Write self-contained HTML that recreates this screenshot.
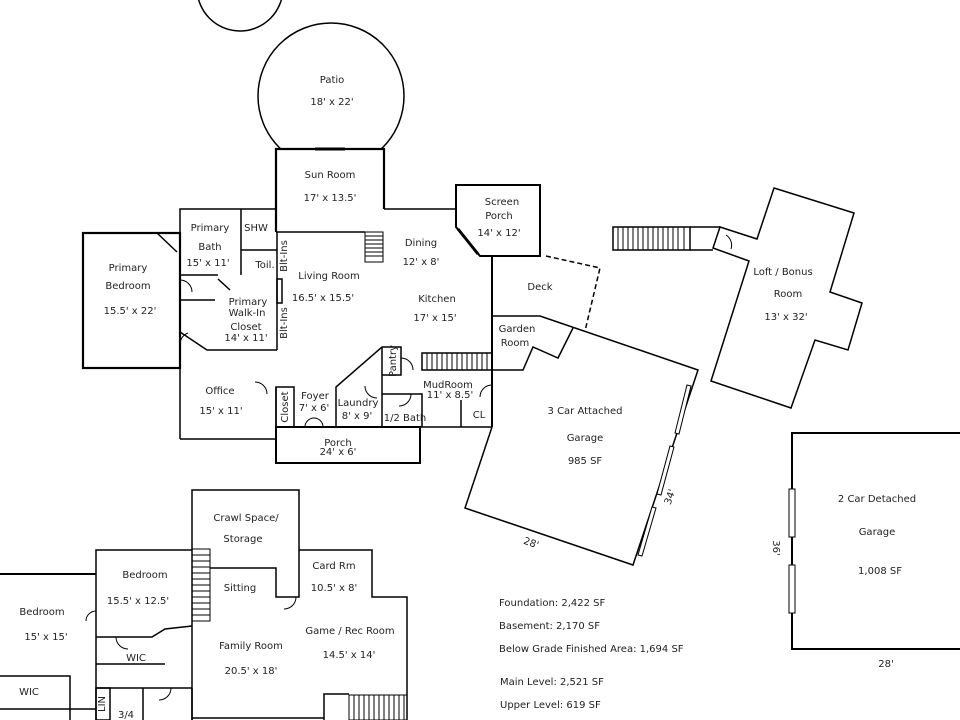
<!DOCTYPE html>
<html><head><meta charset="utf-8"><style>
html,body{margin:0;padding:0;background:#fff}
svg{display:block}
text{font-family:"DejaVu Sans","Liberation Sans",sans-serif;font-size:10px;fill:#222;text-anchor:middle}
.l{text-anchor:start}
</style></head><body>
<svg width="960" height="720" viewBox="0 0 960 720" xmlns="http://www.w3.org/2000/svg">
<g fill="none" stroke="#000" stroke-width="1.5">
<!-- circles -->
<circle cx="240" cy="-12" r="43"/>
<circle cx="331" cy="96" r="73" fill="#fff"/>
<!-- sun room -->
<polyline points="276,232 276,149 384,149 384,209" stroke-width="2.2" fill="#fff"/>
<line x1="315" y1="149" x2="345" y2="149" stroke-width="3"/>
<!-- main outline -->
<polyline points="276,209 180,209 180,233"/>
<rect x="83" y="233" width="97" height="135" stroke-width="2.2"/>
<line x1="384" y1="209" x2="456" y2="209"/>
<line x1="276" y1="232" x2="365" y2="232"/>
<line x1="241" y1="209" x2="241" y2="250"/>
<line x1="241" y1="250" x2="277" y2="250"/>
<line x1="241" y1="250" x2="241" y2="275"/>
<line x1="277" y1="232" x2="277" y2="350"/>
<rect x="277" y="279" width="5" height="24"/>
<line x1="180" y1="275" x2="218" y2="275"/>
<line x1="180" y1="300" x2="215" y2="300"/>
<polyline points="180,332 207,350 277,350"/>
<line x1="180" y1="368" x2="180" y2="439"/>
<line x1="180" y1="439" x2="276" y2="439"/>
<line x1="180" y1="233" x2="180" y2="368"/>
<line x1="157" y1="233" x2="177" y2="252"/>
<line x1="218" y1="279" x2="230" y2="290"/>
<!-- foyer/closet -->
<line x1="276" y1="387" x2="276" y2="439"/>
<rect x="276" y="387" width="18" height="40"/>
<rect x="276" y="427" width="144" height="36" stroke-width="2"/>
<polyline points="336,427 336,387 382,347 401,347 401,375 382,375"/>
<line x1="382" y1="347" x2="382" y2="394"/>
<line x1="382" y1="394" x2="382" y2="427"/>
<polyline points="382,394 422,394 422,427"/>
<line x1="420" y1="427" x2="492" y2="427"/>
<line x1="461" y1="400" x2="461" y2="427"/>
<rect x="422" y="353" width="70" height="17"/>
<!-- screen porch -->
<polygon points="456,185 540,185 540,256 480,256 456,227" stroke-width="2"/>
<line x1="458" y1="229" x2="478" y2="254" stroke-width="3"/>
<line x1="492" y1="256" x2="492" y2="427" stroke-width="2"/>
<!-- deck -->
<polyline points="546,256 600,268 585,331" stroke-dasharray="5,3"/>
<!-- garden/garage -->
<polyline points="492,316 540,316 698,370 633,565 465,508 492,427"/>
<polyline points="573,328 558,358 533,347 523,370 492,370"/>
<g fill="#fff" stroke-width="1">
<polygon points="687,385 691,386 679,434 675,433"/>
<polygon points="670,446 674,447 661,495 657,494"/>
<polygon points="652,507 656,508 642,556 638,555"/>
</g>
<!-- loft -->
<polygon points="774,188 854,213 830,292 862,303 848,350 815,340 791,408 711,381 749,261 713,248 720,227 757,239"/>
<rect x="613" y="227" width="77" height="23"/>
<line x1="690" y1="227" x2="720" y2="227"/><line x1="690" y1="250" x2="713" y2="250"/>
<!-- detached -->
<polyline points="960,433 792,433 792,649 960,649" stroke-width="2"/>
<rect x="789" y="489" width="6" height="48" fill="#fff" stroke-width="1"/>
<rect x="789" y="565" width="6" height="48" fill="#fff" stroke-width="1"/>
<!-- basement -->
<polyline points="192,720 192,490 299,490 299,597 276,597 276,568 210,568"/>
<polyline points="299,550 372,550 372,597 407,597 407,720"/>
<polyline points="96,720 96,550 192,550"/>
<polyline points="0,574 96,574" stroke-width="2"/>
<polyline points="96,637 152,637 165,629 192,626"/>
<polyline points="96,664 165,664"/>
<polyline points="0,676 70,676 70,720"/>
<line x1="0" y1="709" x2="96" y2="709"/>
<line x1="96" y1="688" x2="192" y2="688"/>
<line x1="143" y1="688" x2="143" y2="720"/>
<line x1="192" y1="688" x2="192" y2="720"/>
<line x1="192" y1="718" x2="324" y2="718"/>
<polyline points="324,720 324,694 349,694"/>
<rect x="96" y="688" width="14" height="32"/>
</g>
<g stroke="#000" stroke-width="1">
<!-- stairs -->
<rect x="365" y="232" width="18" height="30" fill="none"/>
<path d="M365 236h18M365 240h18M365 244h18M365 248h18M365 252h18M365 256h18"/>
<path d="M427 353v17M432 353v17M437 353v17M442 353v17M447 353v17M452 353v17M457 353v17M462 353v17M467 353v17M472 353v17M477 353v17M482 353v17M487 353v17"/>
<path d="M618 227v23M623 227v23M628 227v23M633 227v23M638 227v23M643 227v23M648 227v23M653 227v23M658 227v23M663 227v23M668 227v23M673 227v23M678 227v23M684 227v23"/>
<rect x="192" y="549" width="18" height="72" fill="none"/>
<path d="M192 555h18M192 561h18M192 567h18M192 573h18M192 579h18M192 585h18M192 591h18M192 597h18M192 603h18M192 609h18M192 615h18"/>
<rect x="349" y="695" width="58" height="25" fill="none"/>
<path d="M354 695v25M359 695v25M364 695v25M369 695v25M374 695v25M379 695v25M384 695v25M389 695v25M394 695v25M399 695v25M404 695v25"/>
</g>
<g fill="none" stroke="#000" stroke-width="1">
<path d="M180 280 a12 12 0 0 1 12 12"/>
<path d="M180 345 a12 12 0 0 1 8 -12"/>
<path d="M255 382 a12 12 0 0 1 12 12"/>
<path d="M305 427 a9 9 0 0 1 18 0"/>
<path d="M365 386 a12 12 0 0 0 12 12"/>
<path d="M401 358 a12 12 0 0 1 12 12"/>
<path d="M411 394 a12 12 0 0 1 -12 12"/>
<path d="M492 385 a12 12 0 0 0 -12 12"/>
<path d="M726 235 a12 12 0 0 1 5 14"/>
<path d="M296 597 a12 12 0 0 1 -12 12"/>
<path d="M116 637 a12 12 0 0 0 12 12"/>
<path d="M96 611 a10 10 0 0 0 -10 10"/>
<path d="M171 688 a12 12 0 0 1 -12 12"/>
</g>
<g>
<text x="332" y="83">Patio</text><text x="332" y="105">18' x 22'</text>
<text x="330" y="178">Sun Room</text><text x="330" y="201">17' x 13.5'</text>
<text x="210" y="231">Primary</text><text x="210" y="250">Bath</text><text x="208" y="266">15' x 11'</text>
<text x="256" y="231">SHW</text><text x="265" y="268">Toil.</text>
<text x="128" y="271">Primary</text><text x="128" y="289">Bedroom</text><text x="130" y="314">15.5' x 22'</text>
<text x="248" y="305">Primary</text><text x="247" y="316">Walk-In</text><text x="246" y="330">Closet</text><text x="246" y="341">14' x 11'</text>
<text x="329" y="279">Living Room</text><text x="323" y="301">16.5' x 15.5'</text>
<text x="421" y="246">Dining</text><text x="421" y="265">12' x 8'</text>
<text x="437" y="302">Kitchen</text><text x="435" y="321">17' x 15'</text>
<text x="502" y="205">Screen</text><text x="499" y="219">Porch</text><text x="499" y="236">14' x 12'</text>
<text x="540" y="290">Deck</text>
<text x="517" y="332">Garden</text><text x="515" y="346">Room</text>
<text x="220" y="394">Office</text><text x="221" y="414">15' x 11'</text>
<text x="315" y="399">Foyer</text><text x="314" y="411">7' x 6'</text>
<text x="358" y="406">Laundry</text><text x="357" y="419">8' x 9'</text>
<text x="405" y="421">1/2 Bath</text>
<text x="448" y="388">MudRoom</text><text x="450" y="398">11' x 8.5'</text>
<text x="479" y="418">CL</text>
<text x="338" y="446">Porch</text><text x="338" y="455">24' x 6'</text>
<text x="585" y="414">3 Car Attached</text><text x="585" y="441">Garage</text><text x="585" y="464">985 SF</text>
<text x="783" y="275">Loft / Bonus</text><text x="788" y="297">Room</text><text x="786" y="320">13' x 32'</text>
<text x="877" y="502">2 Car Detached</text><text x="877" y="535">Garage</text><text x="880" y="574">1,008 SF</text>
<text x="886" y="667">28'</text>
<text transform="translate(773,548) rotate(90)">36'</text>
<text transform="translate(530,546) rotate(20)">28'</text>
<text transform="translate(673,498) rotate(-70)">34'</text>
<text x="246" y="521">Crawl Space/</text><text x="243" y="542">Storage</text>
<text x="240" y="591">Sitting</text>
<text x="334" y="569">Card Rm</text><text x="334" y="591">10.5' x 8'</text>
<text x="145" y="578">Bedroom</text><text x="138" y="604">15.5' x 12.5'</text>
<text x="42" y="615">Bedroom</text><text x="46" y="640">15' x 15'</text>
<text x="251" y="649">Family Room</text><text x="251" y="674">20.5' x 18'</text>
<text x="350" y="634">Game / Rec Room</text><text x="349" y="658">14.5' x 14'</text>
<text x="136" y="661">WIC</text><text x="29" y="695">WIC</text><text x="126" y="718">3/4</text>
<text class="l" x="499" y="606">Foundation: 2,422 SF</text>
<text class="l" x="499" y="629">Basement: 2,170 SF</text>
<text class="l" x="499" y="652">Below Grade Finished Area: 1,694 SF</text>
<text class="l" x="500" y="685">Main Level: 2,521 SF</text>
<text class="l" x="500" y="708">Upper Level: 619 SF</text>
<g style="font-size:9px">
<text transform="translate(287,256) rotate(-90)">Blt-Ins</text>
<text transform="translate(287,323) rotate(-90)">Blt-Ins</text>
<text transform="translate(288,407) rotate(-90)">Closet</text>
<text transform="translate(396,361) rotate(-90)">Pantry</text>
<text transform="translate(105,704) rotate(-90)">LIN</text>
</g>
</g>
</svg>
</body></html>
